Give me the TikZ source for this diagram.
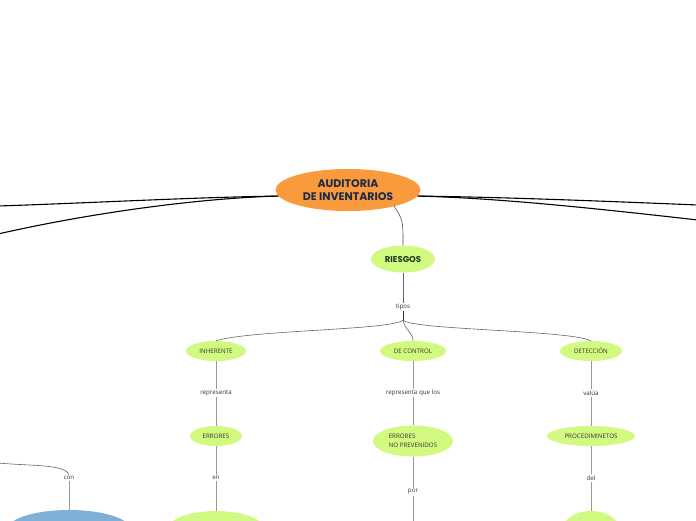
\documentclass[tikz,border=0pt]{standalone}
\usepackage{fontspec}
\setmainfont{Open Sans}
\newfontfamily\titlefont{Poppins}
\usepackage{xcolor}
\usetikzlibrary{shapes}
\definecolor{mainorange}{HTML}{F99A3D}
\definecolor{lime}{HTML}{D2FA80}
\definecolor{sky}{HTML}{7EB0D8}
\definecolor{navy}{HTML}{1B2A4A}
\definecolor{darkgreen}{HTML}{1F3A1F}
\tikzstyle{maintopic}=[ellipse, fill=mainorange, inner sep=0pt, text=navy, font=\titlefont\fontsize{11}{13}\selectfont\bfseries, align=center]
\tikzstyle{subtopic}=[ellipse, fill=lime, inner sep=0pt, text=darkgreen, font=\titlefont\fontsize{8.5}{9}\selectfont\bfseries]
\tikzstyle{leaf}=[ellipse, fill=lime, inner sep=0pt, text=black!80, font=\fontsize{6.2}{9}\selectfont, align=left]
\tikzstyle{linklabel}=[inner sep=1pt, text=black!80, font=\fontsize{6.2}{7}\selectfont]
\tikzstyle{mainline}=[black, line width=1.1pt]
\tikzstyle{subline}=[black!60, line width=0.6pt]
\tikzstyle{leafline}=[black!40, line width=1pt]

\begin{document}
\begin{tikzpicture}[x=1pt,y=-1pt]
	\clip (0,0) rectangle (696,520);
	\fill[white] (0,0) rectangle (696,520);
	% central topic
	\node[maintopic, minimum width=145pt, minimum height=42pt] (main) at (348,190) {AUDITORIA\\DE INVENTARIOS};
	\coordinate (westA) at (-2,206);
	\coordinate (westB) at (-2,234);
	\coordinate (eastA) at (698,205);
	\coordinate (eastB) at (698,220);
	\draw[mainline] (main.185) .. controls (200,197) and (90,203) .. (westA);
	\draw[mainline] (main.185) .. controls (200,198) and (90,213) .. (westB);
	\draw[mainline] (main.355) .. controls (500,197) and (600,201) .. (eastA);
	\draw[mainline] (main.355) .. controls (500,198) and (600,209) .. (eastB);
	% riesgos
	\node[subtopic, minimum width=64pt, minimum height=27pt] (riesgos) at (403,259) {RIESGOS};
	\coordinate (riesgostop) at (394,206);
	\draw[black!70, line width=0.6pt] (riesgostop) .. controls (403,220) .. (riesgos.north);
	\node[linklabel] (tipos) at (403,307) {tipos};
	\draw[subline] (riesgos.south) -- (tipos.north);
	\coordinate (fork) at (403,320);
	\draw[black!80, line width=0.8pt] (tipos.south) -- (fork);
	% tipos de riesgo
	\node[leaf, minimum width=60pt, minimum height=20pt] (inherente) at (216,351) {INHERENTE};
	\node[leaf, minimum width=66pt, minimum height=20pt] (control) at (413,351) {DE CONTROL};
	\node[leaf, minimum width=62pt, minimum height=20pt] (deteccion) at (591,351) {DETECCIÓN};
	\draw[subline] (fork) .. controls (395,330) and (250,330) .. (inherente.north);
	\draw[subline] (fork) .. controls (405,330) and (413,333) .. (control.north);
	\draw[subline] (fork) .. controls (411,330) and (570,330) .. (deteccion.north);
	% rama inherente
	\node[linklabel] (representa) at (216,393) {representa};
	\node[leaf, minimum width=52pt, minimum height=20pt] (errores) at (216,436) {ERRORES};
	\node[linklabel] (en) at (216,478) {en};
	\node[leaf, minimum width=96pt, minimum height=36pt] (saldos) at (216,529) {};
	\draw[leafline] (inherente.south) -- (representa.north);
	\draw[leafline] (representa.south) -- (errores.north);
	\draw[leafline] (errores.south) -- (en.north);
	\draw[leafline] (en.south) -- (saldos.north);
	% rama de control
	\node[linklabel] (representaque) at (413,393) {representa que los};
	\node[leaf, minimum width=80pt, minimum height=31pt] (noprev) at (413,441) {ERRORES\\NO PREVENIDOS};
	\node[linklabel] (por) at (413,492) {por};
	\coordinate (porend) at (413,522);
	\draw[leafline] (control.south) -- (representaque.north);
	\draw[leafline] (representaque.south) -- (noprev.north);
	\draw[leafline] (noprev.south) -- (por.north);
	\draw[leafline] (por.south) -- (porend);
	% rama deteccion
	\node[linklabel] (valua) at (591,393) {valúa};
	\node[leaf, minimum width=88pt, minimum height=20pt] (procedim) at (591,436) {PROCEDIMINETOS};
	\node[linklabel] (del) at (591,478) {del};
	\node[leaf, minimum width=56pt, minimum height=36pt] (auditor) at (591,529) {};
	\draw[leafline] (deteccion.south) -- (valua.north);
	\draw[leafline] (valua.south) -- (procedim.north);
	\draw[leafline] (procedim.south) -- (del.north);
	\draw[leafline] (del.south) -- (auditor.north);
	% rama izquierda
	\node[linklabel] (con) at (69,478) {con};
	\coordinate (westC) at (-2,463);
	\node[ellipse, fill=sky, inner sep=0pt, minimum width=122pt, minimum height=38pt] (azul) at (69,529) {};
	\draw[subline] (westC) .. controls (30,466) and (66,464) .. (con.north);
	\draw[leafline] (con.south) -- (azul.north);
\end{tikzpicture}
\end{document}
